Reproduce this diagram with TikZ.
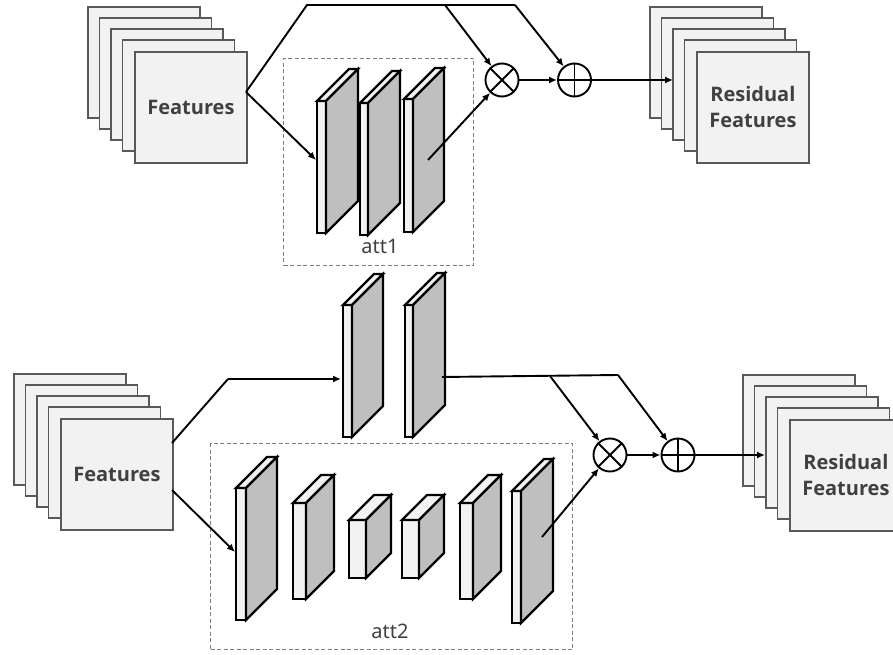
\documentclass[tikz,border=0pt]{standalone}
\usepackage{fontspec}
\newfontfamily\lblfont{Noto Sans}
\newfontfamily\featfont{Open Sans}
\usetikzlibrary{arrows.meta}
\definecolor{paper}{HTML}{F2F2F2}
\definecolor{shade}{HTML}{BFBFBF}
\definecolor{edge}{HTML}{595959}
\definecolor{ink}{HTML}{404040}
\definecolor{dashgray}{HTML}{7F7F7F}

\tikzset{
  slabline/.style={draw=black, line width=2.2pt, line join=miter},
  sheet/.style={draw=edge, fill=paper, line width=1.8pt},
  sheetnode/.style={sheet, minimum width=112pt, minimum height=111pt, inner sep=0pt,
    anchor=north west, align=center, text=ink, font=\featfont\bfseries\fontsize{20}{26}\selectfont},
  wire/.style={line width=1.9pt},
  conn/.style={line width=1.9pt, -{Latex[length=8pt,width=7pt]}},
  opcirc/.style={circle, draw, line width=1.9pt, minimum size=33pt, inner sep=0pt},
  groupbox/.style={draw=dashgray, line width=1pt, dash pattern=on 4pt off 2.5pt,
    anchor=north west, inner sep=0pt},
  grouplabel/.style={text=ink, font=\lblfont\fontsize{20}{22}\selectfont, anchor=base},
}

% one 3-D slab: front top-left x, y, front width, height, depth
\newcommand\slab[5]{%
  \filldraw[slabline, fill=paper] (#1,#2) rectangle ({#1+#3},{#2+#4});
  \filldraw[slabline, fill=paper] (#1,#2) -- ({#1+#5},{#2-#5}) -- ({#1+#3+#5},{#2-#5}) -- ({#1+#3},#2) -- cycle;
  \filldraw[slabline, fill=shade] ({#1+#3},#2) -- ({#1+#3+#5},{#2-#5}) -- ({#1+#3+#5},{#2+#4-#5}) -- ({#1+#3},{#2+#4}) -- cycle;
}
% a stack of five feature sheets: rear sheet x, y, name and text of front sheet
\newcommand\fstack[4]{%
  \foreach \k in {0,...,3}
    \filldraw[sheet] ({#1+11.5*\k},{#2+11*\k}) rectangle ++(112,111);
  \node[sheetnode] (#3) at ({#1+46},{#2+44}) {#4};
}

\begin{document}
\begin{tikzpicture}[x=1pt, y=-1pt]
\useasboundingbox (0,0) rectangle (893,655);

% ---------------- upper branch ----------------
\fstack{88}{7}{featA}{Features}
\fstack{650}{7}{resA}{Residual\\Features}

\node[groupbox, minimum width=190pt, minimum height=207pt] (att1box) at (283,58) {};
\node[grouplabel] (att1lbl) at (380,253) {att1};

\slab{317}{101}{9}{132}{32}
\slab{360}{103}{8}{132}{32}
\slab{404}{99}{9}{133}{31}

\node[opcirc] (mulA) at (502,80) {};
\draw[wire] (mulA.north west) -- (mulA.south east) (mulA.north east) -- (mulA.south west);
\node[opcirc] (addA) at (574.5,80) {};
\draw[wire] (addA.north) -- (addA.south) (addA.west) -- (addA.east);

\coordinate (outA) at (246,92);
\coordinate (bendA) at (307,5);
\coordinate (tapA) at (445,5);
\coordinate (skipA) at (515,5);
\coordinate (inA) at (316,160);
\coordinate (attA) at (428,160);
\coordinate (dstA) at (673,80);

\draw[wire] (outA) -- (bendA) -- (skipA);
\draw[conn] (tapA) -- (mulA);
\draw[conn] (skipA) -- (addA);
\draw[conn] (outA) -- (inA);
\draw[conn] (attA) -- (mulA);
\draw[conn] (mulA) -- (addA);
\draw[conn] (addA) -- (dstA);

% ---------------- lower branch ----------------
\fstack{14}{374}{featB}{Features}
\fstack{743}{375}{resB}{Residual\\Features}

\node[groupbox, minimum width=362pt, minimum height=206pt] (att2box) at (210,443) {};
\node[grouplabel] (att2lbl) at (390,638) {att2};

\slab{343}{305}{9}{132}{31}
\slab{405}{305}{8}{132}{32}

\slab{236}{488}{10}{132}{31}
\slab{293}{503}{13}{96}{28}
\slab{349}{520}{17}{58}{25}
\slab{402}{520}{17}{58}{25}
\slab{460}{503}{13}{96}{28}
\slab{512}{491}{9}{132}{32}

\node[opcirc] (mulB) at (610,455) {};
\draw[wire] (mulB.north west) -- (mulB.south east) (mulB.north east) -- (mulB.south west);
\node[opcirc] (addB) at (678,455) {};
\draw[wire] (addB.north) -- (addB.south) (addB.west) -- (addB.east);

\coordinate (outB1) at (172,443);
\coordinate (bendB) at (228,379);
\coordinate (inTrunk) at (341,379);
\coordinate (outB2) at (172,490);
\coordinate (inB) at (235,552);
\coordinate (trunkOut) at (442,377);
\coordinate (tapB) at (550,376);
\coordinate (skipB) at (618,375);
\coordinate (attB) at (542,537);
\coordinate (dstB) at (765,455);

\draw[wire] (outB1) -- (bendB);
\draw[conn] (bendB) -- (inTrunk);
\draw[conn] (outB2) -- (inB);
\draw[wire] (trunkOut) -- (skipB);
\draw[conn] (tapB) -- (mulB);
\draw[conn] (skipB) -- (addB);
\draw[conn] (attB) -- (mulB);
\draw[conn] (mulB) -- (addB);
\draw[conn] (addB) -- (dstB);
\end{tikzpicture}
\end{document}
